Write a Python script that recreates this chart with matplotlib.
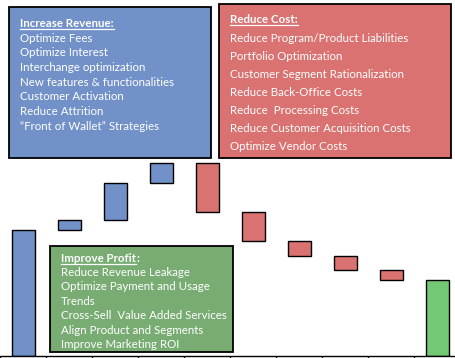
import numpy as np
import matplotlib.pyplot as plt
from matplotlib.patches import Rectangle
from matplotlib.lines import Line2D

plt.rcParams['font.family'] = ['Lato', 'DejaVu Sans']

# waterfall data (arbitrary units)
start_value = 126
steps = [10, 37, 19.5, -48.5, -29, -15, -14, -10]
step_colors = ['#7191C8'] * 3 + ['#D97270'] * 5

revenue_title = 'Increase Revenue:'
revenue_items = ['Optimize Fees', 'Optimize Interest', 'Interchange optimization',
                 'New features & functionalities', 'Customer Activation',
                 'Reduce Attrition', '\u201cFront of Wallet\u201d Strategies']
cost_title = 'Reduce Cost:'
cost_items = ['Reduce Program/Product Liabilities', 'Portfolio Optimization',
              'Customer Segment Rationalization', 'Reduce Back-Office Costs',
              'Reduce  Processing Costs', 'Reduce Customer Acquisition Costs',
              'Optimize Vendor Costs']
profit_title = 'Improve Profit'
profit_items = ['Reduce Revenue Leakage', 'Optimize Payment and Usage', 'Trends',
                'Cross-Sell  Value Added Services', 'Align Product and Segments',
                'Improve Marketing ROI']

W, H = 456, 358
FS = 8.3
fig = plt.figure(figsize=(W / 100, H / 100), dpi=100)
ax = fig.add_axes([0, 2.5 / H, 460 / W, 355.5 / H])

# build the waterfall
end_value = start_value + sum(steps)
levels = start_value + np.concatenate([[0], np.cumsum(steps)])
bottoms = np.minimum(levels[:-1], levels[1:])
heights = np.abs(steps)
n = len(steps) + 2
ax.bar(0, start_value, width=0.5, color='#7191C8', edgecolor='black', linewidth=1)
ax.bar(np.arange(1, n - 1), heights, bottom=bottoms, width=0.5,
       color=step_colors, edgecolor='black', linewidth=1)
ax.bar(n - 1, end_value, width=0.5, color='#72C873', edgecolor='black', linewidth=1)

ax.set_xlim(-0.5, n - 0.5)
ax.set_ylim(0, 355.5)
for s in ['left', 'right', 'top']:
    ax.spines[s].set_visible(False)
ax.spines['bottom'].set_linewidth(1)
ax.set_xticks(np.arange(-0.5, n, 1))
ax.set_xticklabels([])
ax.tick_params(axis='x', direction='out', length=2.5, width=1)
ax.set_yticks([])


def px(x, y):
    return x / W, 1 - y / H


def box(x0, y0, x1, y1, color):
    r = Rectangle(px(x0, y1), (x1 - x0) / W, (y1 - y0) / H, transform=fig.transFigure,
                  facecolor=color, edgecolor='black', linewidth=1.3, zorder=5)
    fig.add_artist(r)


def block(x, y0, gap, title, items, title_gap=None):
    t = fig.text(*px(x, y0), title, color='white', fontsize=FS, fontweight='bold',
                 va='baseline', zorder=6)
    titles.append((t, y0))
    first = y0 + (title_gap if title_gap else gap)
    for i, s in enumerate(items):
        fig.text(*px(x, first + i * gap), s, color='white', fontsize=FS,
                 va='baseline', zorder=6)


titles = []
box(9, 7, 211, 158, '#7191C8')
box(219, 4, 451, 158, '#D97270')
box(50, 246, 233, 352, '#78AC73')
block(20, 27, 14.7, revenue_title, revenue_items)
block(230, 23.3, 18.0, cost_title, cost_items, title_gap=18.4)
block(61, 261.7, 14.46, profit_title, profit_items, title_gap=14.3)

# underlines, plus the trailing colon of the profit title
fig.canvas.draw()
renderer = fig.canvas.get_renderer()
for t, yb in titles:
    bb = t.get_window_extent(renderer)
    yl = 1 - (yb + 1.8) / H
    fig.add_artist(Line2D([bb.x0 / W, bb.x1 / W], [yl, yl], color='white', linewidth=0.9,
                          transform=fig.transFigure, zorder=6))
pt, pyb = titles[2]
bb = pt.get_window_extent(renderer)
fig.text(bb.x1 / W, 1 - pyb / H, ':', color='white', fontsize=FS, fontweight='bold',
         va='baseline', zorder=6)

fig.savefig('out.png', dpi=100)
